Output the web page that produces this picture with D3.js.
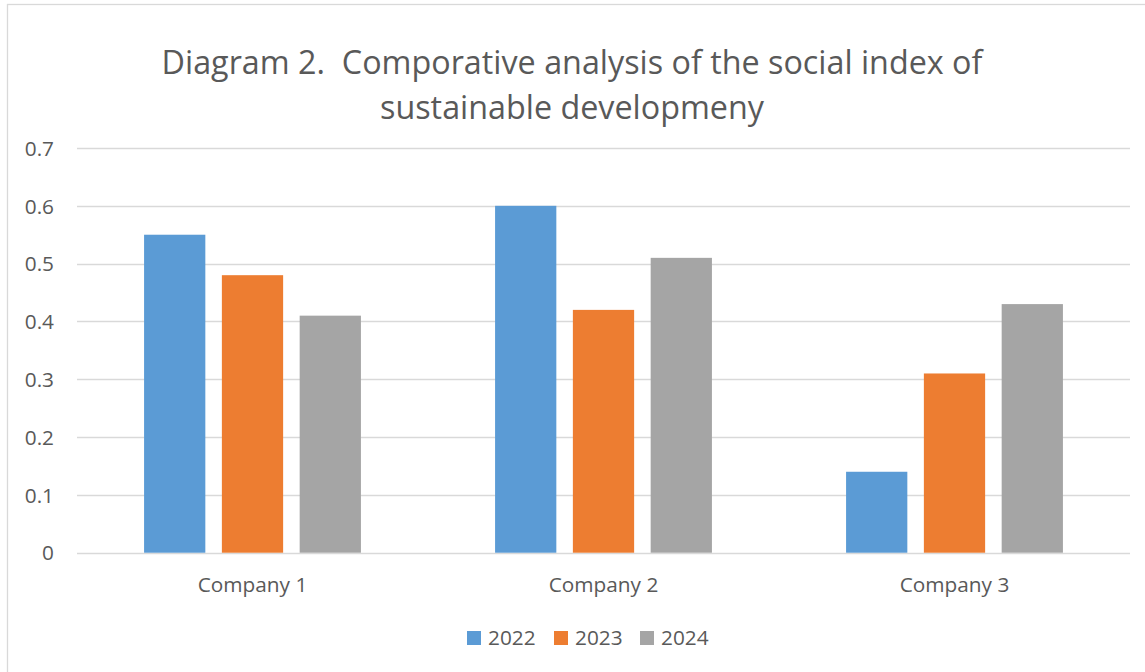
<!DOCTYPE html>
<html>
<head>
<meta charset="utf-8">
<script src="https://cdn.jsdelivr.net/npm/d3@7"></script>
<style>
  html, body { margin: 0; padding: 0; background: #fff; }
  svg { display: block; font-family: "Open Sans", sans-serif; }
</style>
</head>
<body>
<svg id="chart" width="1145" height="672"></svg>
<script>
// Social index of sustainable development by company and year
const categories = ["Company 1", "Company 2", "Company 3"];
const seriesNames = ["2022", "2023", "2024"];
const values2022 = [0.55, 0.60, 0.14];
const values2023 = [0.48, 0.42, 0.31];
const values2024 = [0.41, 0.51, 0.43];
const yTicks = [0, 0.1, 0.2, 0.3, 0.4, 0.5, 0.6, 0.7];
const titleLines = [
  "Diagram 2.  Comporative analysis of the social index of",
  "sustainable developmeny"
];
const colors = ["#5b9bd5", "#ed7d31", "#a5a5a5"];

const series = [values2022, values2023, values2024];

const svg = d3.select("#chart");
const textColor = "#595959";
const labelSize = 20.8;

// chart frame
svg.append("rect")
  .attr("x", 7.5).attr("y", 4.5)
  .attr("width", 1200).attr("height", 720)
  .attr("fill", "#fff").attr("stroke", "#d9d9d9").attr("stroke-width", 1.3);

const plot = { left: 77, right: 1130, top: 148, bottom: 552.7 };

const y = d3.scaleLinear().domain([0, 0.7]).range([plot.bottom, plot.top]);

// Excel-style clustering: gap width 219%, overlap -27%
const x0 = d3.scaleBand().domain(categories).range([plot.left, plot.right]).paddingInner(0).paddingOuter(0);
const catW = x0.bandwidth();
const barW = catW / (3 + 2 * 0.27 + 2.19);
const step = barW * 1.27;
const groupW = barW * 3 + barW * 0.27 * 2;

// gridlines
svg.append("g")
  .selectAll("line")
  .data(yTicks)
  .join("line")
  .attr("x1", plot.left).attr("x2", plot.right)
  .attr("y1", d => Math.round(y(d)) + 0.5).attr("y2", d => Math.round(y(d)) + 0.5)
  .attr("stroke", "#d9d9d9").attr("stroke-width", 1.4);

// y tick labels
const yAxis = d3.axisLeft(y).tickValues(yTicks).tickFormat(d => d === 0 ? "0" : d3.format(".1f")(d)).tickSize(0).tickPadding(0);
const gy = svg.append("g").attr("transform", "translate(54,0)").call(yAxis);
gy.select(".domain").remove();
gy.selectAll("text")
  .attr("fill", textColor)
  .attr("font-size", labelSize)
  .attr("font-family", "'Open Sans', sans-serif")
  .attr("dy", "0.35em");

// bars
series.forEach((vals, si) => {
  svg.append("g")
    .selectAll("rect")
    .data(vals)
    .join("rect")
    .attr("x", (d, i) => x0(categories[i]) + (catW - groupW) / 2 + si * step)
    .attr("y", d => y(d))
    .attr("width", barW)
    .attr("height", d => y(0) - y(d))
    .attr("fill", colors[si]);
});

// category labels
const xAxis = d3.axisBottom(x0).tickSize(0).tickPadding(0);
const gx = svg.append("g").attr("transform", `translate(0,${plot.bottom})`).call(xAxis);
gx.select(".domain").remove();
gx.selectAll("text")
  .attr("fill", textColor)
  .attr("font-size", labelSize)
  .attr("font-family", "'Open Sans', sans-serif")
  .attr("dy", null)
  .attr("y", 39);

// title
svg.append("text")
  .attr("x", 572).attr("text-anchor", "middle")
  .attr("fill", textColor)
  .attr("font-size", 32.3)
  .style("white-space", "pre")
  .selectAll("tspan")
  .data(titleLines)
  .join("tspan")
  .attr("x", 572)
  .attr("y", (d, i) => 74 + i * 45)
  .text(d => d);

// legend
const legendX = [467, 554, 640];
const legend = svg.append("g");
seriesNames.forEach((name, i) => {
  legend.append("rect")
    .attr("x", legendX[i]).attr("y", 631)
    .attr("width", 14).attr("height", 14)
    .attr("fill", colors[i]);
  legend.append("text")
    .attr("x", legendX[i] + 21).attr("y", 645)
    .attr("fill", textColor)
    .attr("font-size", labelSize)
    .text(name);
});
</script>
</body>
</html>
